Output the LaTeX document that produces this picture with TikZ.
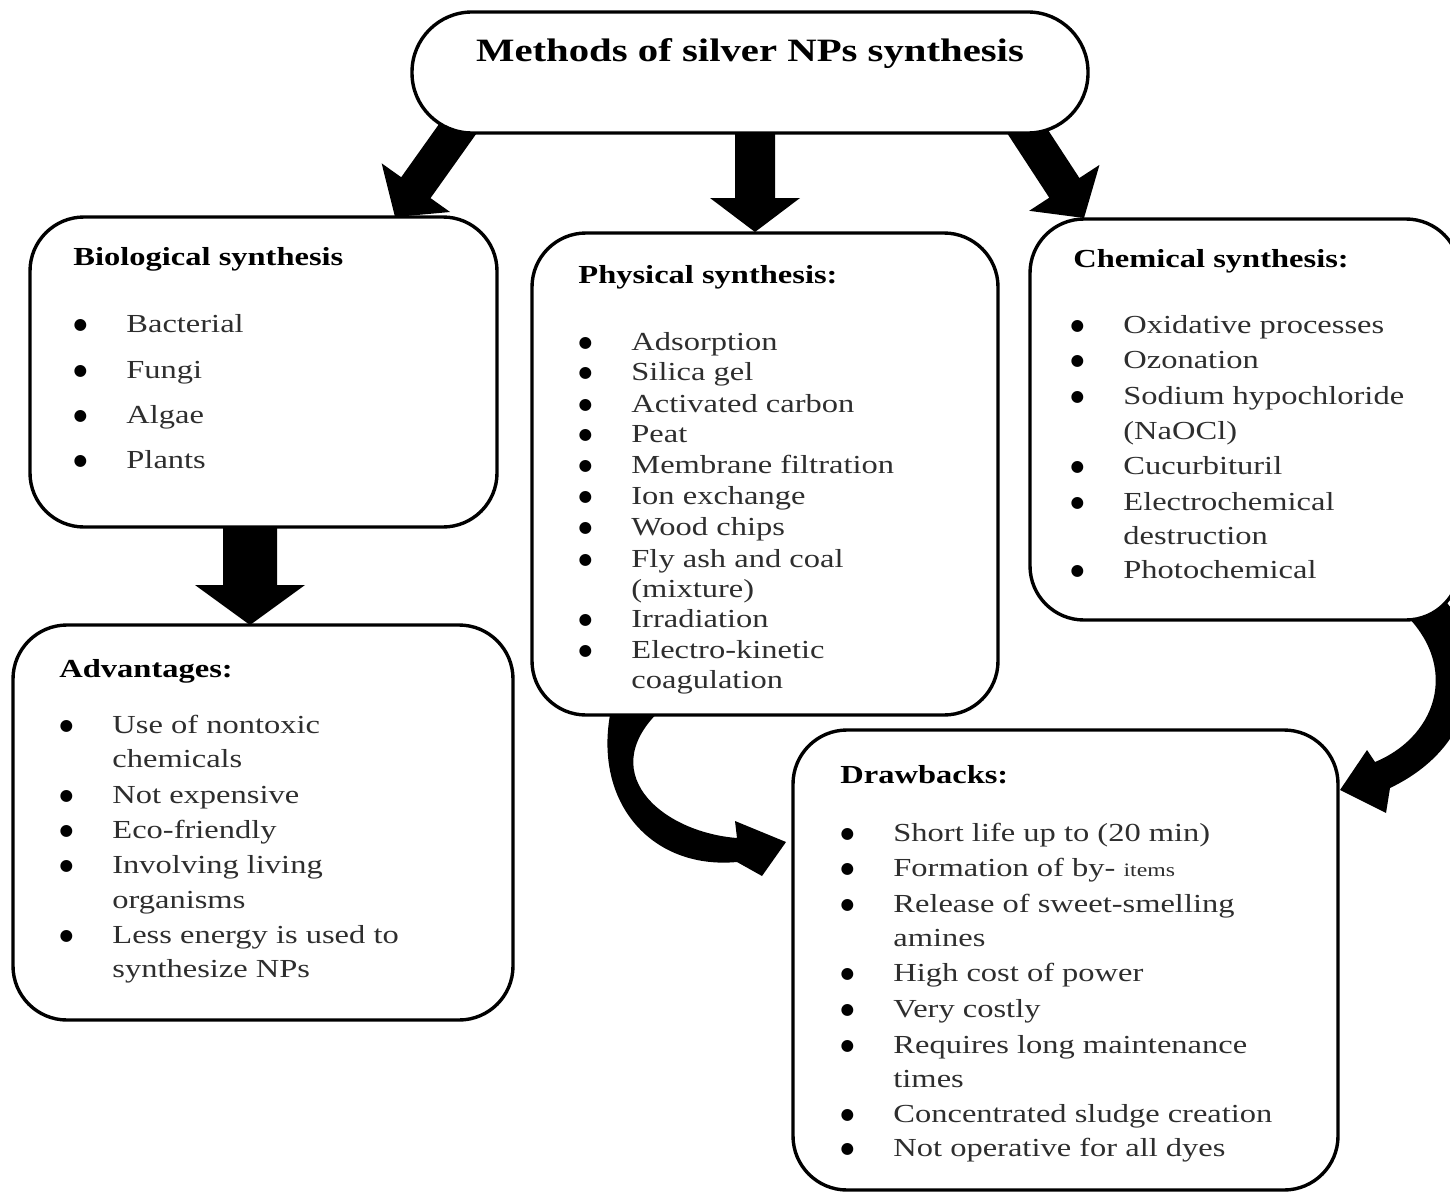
\documentclass[tikz,border=0pt]{standalone}
\usepackage{fontspec}
\setmainfont{Liberation Serif}[FakeStretch=1.25]
\newfontfamily\dotfont{DejaVu Sans}
\usetikzlibrary{calc,backgrounds}

\newcommand{\bul}{\llap{\raisebox{1.5pt}{\dotfont\fontsize{7.8}{9}\selectfont\textcolor{black}{\symbol{"25CF}}}\hspace*{19.6pt}}}
% #1 start, #2 tip, #3 shaft half width, #4 head half width, #5 head length, #6 name
\newcommand{\blockarrow}[6]{%
  \coordinate (#6-h) at ($(#2)!#5!(#1)$);
  \fill[black] ($(#1)!#3!90:(#2)$) -- ($(#6-h)!#3!-90:(#1)$) -- ($(#6-h)!#4!-90:(#1)$)
    -- (#2) -- ($(#6-h)!#4!90:(#1)$) -- ($(#6-h)!#3!90:(#1)$) -- ($(#1)!#3!-90:(#2)$) -- cycle;
}

\tikzset{
  box/.style={draw=black, line width=1.7pt, rounded corners=27pt, fill=white,
              inner sep=0pt, outer sep=0pt},
  head/.style={anchor=base west, inner sep=0pt,
               font=\fontsize{13}{15}\selectfont\bfseries, text=black},
  item/.style={anchor=base west, inner sep=0pt,
               font=\fontsize{13}{15}\selectfont, text=black!82},
}

\begin{document}
\begin{tikzpicture}[x=0.5pt,y=-0.5pt]
\useasboundingbox (0,0) rectangle (1450,1193);
\clip (0,0) rectangle (1450,1193);

% ---------- boxes ----------
\node[box, rounded corners=30pt, minimum width=338pt, minimum height=60.5pt] (title) at (750,72.5) {};
\node[anchor=base, inner sep=0pt, font=\fontsize{16.3}{18}\selectfont\bfseries] (titletext) at (750,62) {Methods of silver NPs synthesis};

\node[box, minimum width=233.5pt, minimum height=155pt] (bio) at (263.5,372) {};
\node[box, minimum width=233pt, minimum height=241pt] (phys) at (765,474) {};
\node[box, minimum width=215pt, minimum height=200.5pt] (chem) at (1245,419.5) {};
\node[box, minimum width=250pt, minimum height=197.5pt] (adv) at (263,822.5) {};
\node[box, minimum width=272.5pt, minimum height=230pt] (drw) at (1065.5,960) {};

% ---------- texts ----------
\node[head] (bio-h) at (73,265) {Biological synthesis};
\foreach \y/\t [count=\i] in {332/\bul Bacterial, 378/\bul Fungi, 423/\bul Algae, 468/\bul Plants}
  \node[item] (bio-\i) at (126,\y) {\t};

\node[head] (phys-h) at (578,283) {Physical synthesis:};
\foreach \y/\t [count=\i] in {350/\bul Adsorption, 380/\bul Silica gel, 412/\bul Activated carbon,
  442/\bul Peat, 473/\bul Membrane filtration, 504/\bul Ion exchange, 535/\bul Wood chips,
  567/\bul Fly ash and coal, 597/(mixture), 627/\bul Irradiation, 658/\bul Electro-kinetic,
  688/coagulation}
  \node[item] (phys-\i) at (631,\y) {\t};

\node[head] (chem-h) at (1073,267) {Chemical synthesis:};
\foreach \y/\t [count=\i] in {333/\bul Oxidative processes, 368/\bul Ozonation,
  404/\bul Sodium hypochloride, 439/(NaOCl), 474/\bul Cucurbituril,
  510/\bul Electrochemical, 544/destruction, 578/\bul Photochemical}
  \node[item] (chem-\i) at (1123,\y) {\t};

\node[head] (adv-h) at (59,677) {Advantages:};
\foreach \y/\t [count=\i] in {733/\bul Use of nontoxic, 767/chemicals, 803/\bul Not expensive,
  838/\bul Eco-friendly, 873/\bul Involving  living, 908/organisms,
  943/\bul Less energy is used to, 977/synthesize NPs}
  \node[item] (adv-\i) at (112,\y) {\t};

\node[head] (drw-h) at (840,783) {Drawbacks:};
\foreach \y/\t [count=\i] in {841/\bul Short life up to (20 min),
  876/\bul Formation of by- {\fontsize{9.5}{10}\selectfont items},
  912/\bul Release of sweet-smelling, 946/amines, 981/\bul High cost of power,
  1017/\bul Very costly, 1053/\bul Requires long maintenance, 1087/times,
  1122/\bul Concentrated sludge creation, 1156/\bul Not operative for all dyes}
  \node[item] (drw-\i) at (893,\y) {\t};

% ---------- connectors ----------
\coordinate (a1s) at (464,120);  \coordinate (a1t) at (395,217);
\coordinate (a2s) at (755,128);  \coordinate (a2t) at (755,232);
\coordinate (a3s) at (1020,120); \coordinate (a3t) at (1084,218);
\coordinate (a4s) at (250,522);  \coordinate (a4t) at (250,625);

\begin{scope}[on background layer]
  \fill[white] (0,0) rectangle (1450,1193);
  \blockarrow{a1s}{a1t}{9pt}{21pt}{18pt}{a1}
  \blockarrow{a2s}{a2t}{10pt}{22.5pt}{17pt}{a2}
  \blockarrow{a3s}{a3t}{9pt}{21pt}{18pt}{a3}
  \blockarrow{a4s}{a4t}{13.5pt}{27.5pt}{20pt}{a4}
  % physical -> drawbacks
  \fill[black] (612,705) .. controls (590,800) and (650,870) .. (737,862)
     -- (762,876) -- (786,842) -- (735,821) -- (737,838)
     .. controls (660,832) and (590,770) .. (666,705) -- cycle;
  % chemical -> drawbacks
  \fill[black] (1440,595) .. controls (1485,640) and (1490,740) .. (1390,788)
     -- (1386,813) -- (1340,790) -- (1367,750) -- (1375,762)
     .. controls (1440,735) and (1462,660) .. (1395,605) -- cycle;
\end{scope}
\end{tikzpicture}
\end{document}
